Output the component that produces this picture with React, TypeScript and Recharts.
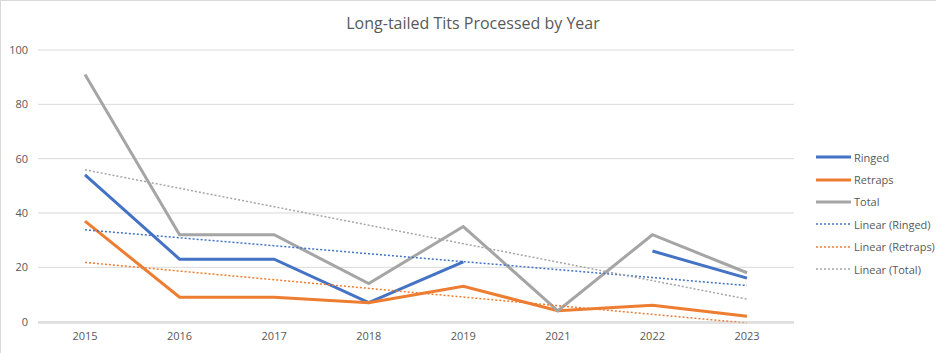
import React from "react";
import { LineChart, Line, XAxis, YAxis, CartesianGrid } from "recharts";

const years = ["2015", "2016", "2017", "2018", "2019", "2021", "2022", "2023"];
const ringed = [54, 23, 23, 7, 22, null, 26, 16];
const retraps = [37, 9, 9, 7, 13, 4, 6, 2];
const total = [91, 32, 32, 14, 35, 4, 32, 18];

// trendlines: values read at the first and last year only
const trendRinged = [33.8, null, null, null, null, null, null, 13.3];
const trendRetraps = [21.8, null, null, null, null, null, null, -0.5];
const trendTotal = [55.9, null, null, null, null, null, null, 8.3];

const yTicks = [0, 20, 40, 60, 80, 100];

const BLUE = "#4472C4";
const ORANGE = "#ED7D31";
const GRAY = "#A5A5A5";
const TEXT = "#595959";
const FONT = "'Open Sans', sans-serif";

const chartData = years.map((year, i) => ({
  year,
  ringed: ringed[i],
  retraps: retraps[i],
  total: total[i],
  trendRinged: trendRinged[i],
  trendRetraps: trendRetraps[i],
  trendTotal: trendTotal[i],
}));

const legendItems = [
  { name: "Ringed", color: BLUE, dotted: false },
  { name: "Retraps", color: ORANGE, dotted: false },
  { name: "Total", color: GRAY, dotted: false },
  { name: "Linear (Ringed)", color: BLUE, dotted: true },
  { name: "Linear (Retraps)", color: ORANGE, dotted: true },
  { name: "Linear (Total)", color: GRAY, dotted: true },
];

function LegendBox() {
  return (
    <div
      style={{
        position: "absolute",
        left: 814,
        top: 145,
        fontFamily: FONT,
        fontSize: 11,
        color: TEXT,
      }}
    >
      {legendItems.map((item) => (
        <div
          key={item.name}
          style={{ display: "flex", alignItems: "center", height: 22.4 }}
        >
          <svg width={37} height={6} style={{ marginRight: 2 }}>
            <line
              x1={1}
              y1={3}
              x2={36}
              y2={3}
              stroke={item.color}
              strokeWidth={item.dotted ? 1.5 : 3}
              strokeDasharray={item.dotted ? "2 2" : undefined}
            />
          </svg>
          <span>{item.name}</span>
        </div>
      ))}
    </div>
  );
}

export default function App() {
  return (
    <div
      style={{
        position: "absolute",
        left: 0,
        top: 0,
        width: 936,
        height: 353,
        background: "#fff",
        borderLeft: "1px solid #d9d9d9",
        borderTop: "1px solid #d9d9d9",
        boxSizing: "border-box",
      }}
    >
      <div
        style={{
          position: "absolute",
          left: 0,
          top: 11,
          width: 944,
          textAlign: "center",
          fontFamily: FONT,
          fontSize: 16,
          color: TEXT,
        }}
      >
        Long-tailed Tits Processed by Year
      </div>
      <LineChart
        width={935}
        height={352}
        data={chartData}
        margin={{ top: 49, right: 142, bottom: 10, left: 0 }}
        style={{ position: "absolute", left: 0, top: 0 }}
      >
        <CartesianGrid vertical={false} stroke="#d9d9d9" />
        <XAxis
          dataKey="year"
          height={20}
          tickSize={0}
          tickMargin={9}
          padding={{ left: 47, right: 47 }}
          axisLine={{ stroke: "#d9d9d9" }}
          tick={{ fill: TEXT, fontSize: 11, fontFamily: FONT }}
        />
        <YAxis
          width={37}
          domain={[0, 100]}
          ticks={yTicks}
          tickSize={0}
          tickMargin={10}
          axisLine={false}
          tick={{ fill: TEXT, fontSize: 11, fontFamily: FONT }}
        />
        <Line
          dataKey="ringed"
          name="Ringed"
          stroke={BLUE}
          strokeWidth={3}
          dot={false}
          type="linear"
          isAnimationActive={false}
        />
        <Line
          dataKey="retraps"
          name="Retraps"
          stroke={ORANGE}
          strokeWidth={3}
          dot={false}
          type="linear"
          isAnimationActive={false}
        />
        <Line
          dataKey="total"
          name="Total"
          stroke={GRAY}
          strokeWidth={3}
          dot={false}
          type="linear"
          isAnimationActive={false}
        />
        <Line
          dataKey="trendRinged"
          name="Linear (Ringed)"
          stroke={BLUE}
          strokeWidth={1.5}
          strokeDasharray="2 2"
          dot={false}
          connectNulls
          type="linear"
          isAnimationActive={false}
        />
        <Line
          dataKey="trendRetraps"
          name="Linear (Retraps)"
          stroke={ORANGE}
          strokeWidth={1.5}
          strokeDasharray="2 2"
          dot={false}
          connectNulls
          type="linear"
          isAnimationActive={false}
        />
        <Line
          dataKey="trendTotal"
          name="Linear (Total)"
          stroke={GRAY}
          strokeWidth={1.5}
          strokeDasharray="2 2"
          dot={false}
          connectNulls
          type="linear"
          isAnimationActive={false}
        />
      </LineChart>
      <LegendBox />
    </div>
  );
}
